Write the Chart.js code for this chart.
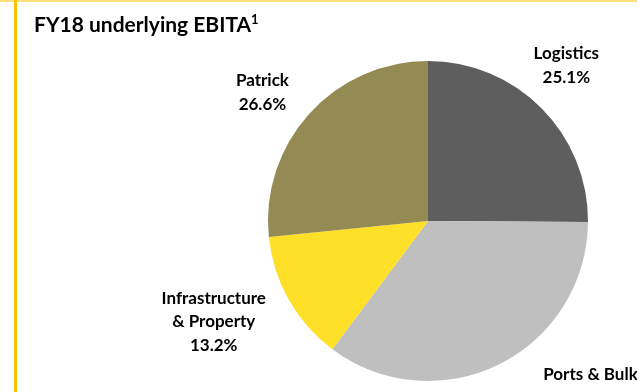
<!DOCTYPE html>
<html>
<head>
<meta charset="utf-8">
<script src="https://cdn.jsdelivr.net/npm/chart.js@4.4.0/dist/chart.umd.min.js"></script>
<style>
  html, body { margin: 0; padding: 0; background: #fff; }
  #quadro {
    position: relative;
    width: 637px;
    height: 392px;
    overflow: hidden;
  }
  #borda-topo { position: absolute; left: 0; top: 0; width: 637px; height: 2px; background: #ffe17a; }
  #borda-esq { position: absolute; left: 14px; top: 0; width: 3px; height: 392px; background: #ffc000; }
  canvas { position: absolute; left: 0; top: 0; }
</style>
</head>
<body>
<div id="quadro">
  <canvas id="grafico-ebita" width="637" height="392"></canvas>
  <div id="borda-topo"></div>
  <div id="borda-esq"></div>
</div>
<script>
// dados do grafico
const segmentos = ['Logistics', 'Ports & Bulk', 'Infrastructure & Property', 'Patrick'];
const percentuais = [25.1, 35.1, 13.2, 26.6];
const rotulos = [['Logistics'], ['Ports & Bulk'], ['Infrastructure', '& Property'], ['Patrick']];
const cores = ['#5e5e5e', '#bfbfbf', '#ffe028', '#948a54'];

// ajuste de posicao dos rotulos (angulo extra em graus, distancia em raios)
const ajusteRotulos = [
  { ang: -3.5, dist: 1.30 },
  { ang: -18, dist: 1.45 },
  { ang: 4.3, dist: 1.48 },
  { ang: -4.3, dist: 1.31 }
];

const fonte = 'Lato, "Open Sans", sans-serif';

const pluginRotulos = {
  id: 'rotulos',
  afterDraw(chart) {
    const ctx = chart.ctx;
    const meta = chart.getDatasetMeta(0);
    ctx.save();
    ctx.fillStyle = '#000';

    // titulo
    ctx.font = 'bold 21px ' + fonte;
    ctx.textAlign = 'left';
    ctx.textBaseline = 'alphabetic';
    const titulo = 'FY18 underlying EBITA';
    ctx.fillText(titulo, 34, 32);
    const w = ctx.measureText(titulo).width;
    ctx.font = 'bold 13px ' + fonte;
    ctx.fillText('1', 34 + w, 24);

    // rotulos das fatias
    ctx.font = 'bold 17px ' + fonte;
    ctx.textAlign = 'center';
    ctx.textBaseline = 'middle';
    meta.data.forEach((arc, i) => {
      const p = arc.getProps(['x', 'y', 'startAngle', 'endAngle', 'outerRadius'], true);
      const meio = (p.startAngle + p.endAngle) / 2 + ajusteRotulos[i].ang * Math.PI / 180;
      const r = p.outerRadius * ajusteRotulos[i].dist;
      const cx = p.x + Math.cos(meio) * r;
      const cy = p.y + Math.sin(meio) * r;
      const linhas = rotulos[i].concat([percentuais[i].toFixed(1) + '%']);
      const passo = 23.5;
      const y0 = cy - (linhas.length - 1) * passo / 2;
      linhas.forEach((txt, j) => ctx.fillText(txt, cx, y0 + j * passo));
    });
    ctx.restore();
  }
};

const ctxEbita = document.getElementById('grafico-ebita').getContext('2d');

const graficoEbita = new Chart(ctxEbita, {
  type: 'pie',
  data: {
    labels: segmentos,
    datasets: [{
      data: percentuais,
      backgroundColor: cores,
      borderWidth: 0,
      offset: 0,
      hoverOffset: 0
    }]
  },
  options: {
    responsive: false,
    animation: false,
    layout: {
      padding: { left: 268, right: 49, top: 61, bottom: 11 }
    },
    plugins: {
      legend: { display: false },
      tooltip: { enabled: false },
      title: { display: false }
    }
  },
  plugins: [pluginRotulos]
});
</script>
</body>
</html>
